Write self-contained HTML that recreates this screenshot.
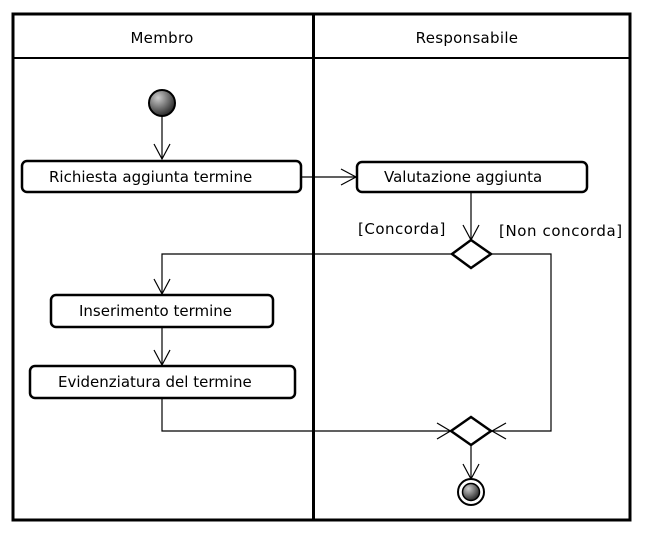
<!DOCTYPE html>
<html><head><style>body{margin:0;background:#fff}svg{display:block}</style></head><body>
<svg width="646" height="533" xmlns="http://www.w3.org/2000/svg" font-family="DejaVu Sans, sans-serif" font-size="15">
<defs>
<radialGradient id="g" cx="35%" cy="30%" r="75%"><stop offset="0" stop-color="#ccc"/><stop offset="1" stop-color="#222"/></radialGradient>
</defs>
<rect x="13" y="14" width="617" height="506" fill="none" stroke="#000" stroke-width="3"/>
<line x1="13" y1="58" x2="630" y2="58" stroke="#000" stroke-width="2"/>
<line x1="313.5" y1="14" x2="313.5" y2="520" stroke="#000" stroke-width="3"/>
<text x="162" y="43" text-anchor="middle" letter-spacing="0.3">Membro</text>
<text x="467" y="43" text-anchor="middle" letter-spacing="0.3">Responsabile</text>
<g fill="none" stroke="#000" stroke-width="1.2">
<line x1="162" y1="116" x2="162" y2="159"/><polyline points="154,144 162,159 170,144"/>
<line x1="301" y1="177" x2="356" y2="177"/><polyline points="341,169 356,177 341,185"/>
<line x1="471" y1="192" x2="471" y2="239"/><polyline points="463,225 471,240 479,225"/>
<polyline points="452,254 162,254 162,294"/><polyline points="154,279 162,294 170,279"/>
<line x1="162" y1="327" x2="162" y2="364"/><polyline points="154,350 162,365 170,350"/>
<polyline points="162,398 162,431 451,431"/>
<line x1="437" y1="423" x2="464" y2="439"/><line x1="437" y1="439" x2="464" y2="423"/>
<polyline points="491,254 551,254 551,431 491,431"/>
<line x1="478" y1="423" x2="506" y2="439"/><line x1="478" y1="439" x2="506" y2="423"/>
<line x1="471" y1="445" x2="471" y2="478"/><polyline points="463,464 471,479 479,464"/>
</g>
<circle cx="162" cy="103" r="13" fill="url(#g)" stroke="#000" stroke-width="2"/>
<rect x="22" y="161" width="279" height="31" rx="5" fill="#fff" stroke="#000" stroke-width="2.5"/>
<text x="49" y="182">Richiesta aggiunta termine</text>
<rect x="357" y="162" width="230" height="30" rx="5" fill="#fff" stroke="#000" stroke-width="2.5"/>
<text x="384" y="182">Valutazione aggiunta</text>
<polygon points="471,240 491,254 471,268 452,254" fill="#fff" stroke="#000" stroke-width="2.5"/>
<text x="358" y="234" letter-spacing="0.5">[Concorda]</text>
<text x="499" y="236" letter-spacing="0.6">[Non concorda]</text>
<rect x="51" y="295" width="222" height="32" rx="5" fill="#fff" stroke="#000" stroke-width="2.5"/>
<text x="79" y="316">Inserimento termine</text>
<rect x="30" y="366" width="265" height="32" rx="5" fill="#fff" stroke="#000" stroke-width="2.5"/>
<text x="58" y="387">Evidenziatura del termine</text>
<polygon points="471,417 491,431 471,445 451,431" fill="#fff" stroke="#000" stroke-width="2.5"/>
<circle cx="471" cy="492" r="13" fill="#fff" stroke="#000" stroke-width="2"/>
<circle cx="471" cy="492" r="8.5" fill="url(#g)" stroke="#000" stroke-width="1.5"/>
</svg>
</body></html>
